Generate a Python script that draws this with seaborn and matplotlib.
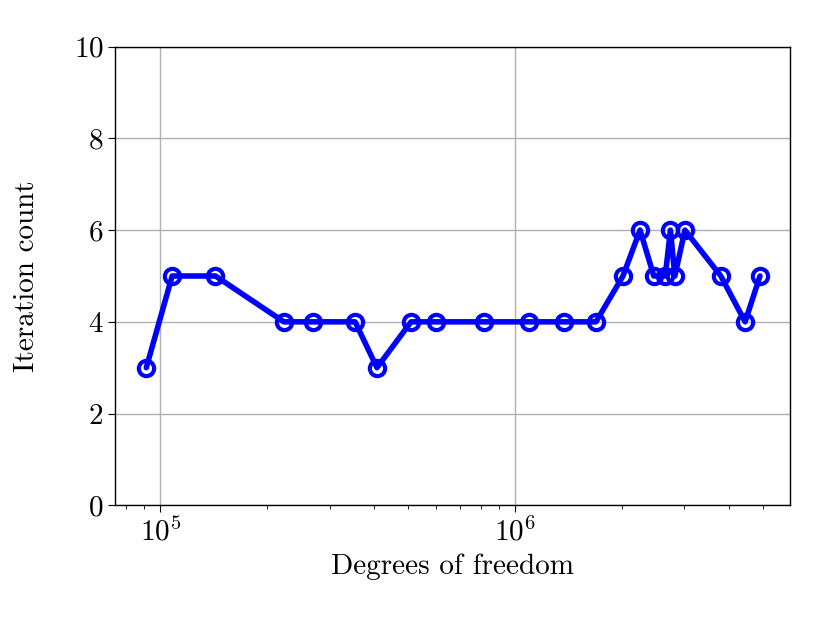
import pandas as pd
import matplotlib
matplotlib.use("Agg")
import matplotlib.pyplot as plt
import seaborn as sns

# Data
dofs = [91.3e3, 108e3, 143e3, 223e3, 270e3, 354e3, 408e3, 509e3, 599e3, 818e3,
        1.094e6, 1.374e6, 1.69e6, 2.014e6, 2.25e6, 2.46e6, 2.65e6, 2.74e6, 2.82e6,
        3.01e6, 3.80e6, 4.45e6, 4.90e6]
iterations = [3, 5, 5, 4, 4, 4, 3, 4, 4, 4,
              4, 4, 4, 5, 6, 5, 5, 6, 5,
              6, 5, 4, 5]

df = pd.DataFrame({"dofs": dofs, "iterations": iterations})

sns.set_style("ticks")
plt.rcParams["font.family"] = ["cmr10", "DejaVu Serif"]
plt.rcParams["mathtext.fontset"] = "cm"
plt.rcParams["axes.formatter.use_mathtext"] = True
plt.rcParams["axes.unicode_minus"] = False
plt.rcParams["text.color"] = "black"
plt.rcParams["axes.labelcolor"] = "black"
plt.rcParams["xtick.color"] = "black"
plt.rcParams["ytick.color"] = "black"

fig, ax = plt.subplots(figsize=(8.3, 6.23), dpi=100)
sns.lineplot(data=df, x="dofs", y="iterations", sort=False, ax=ax,
             color="blue", linewidth=4, marker="o", markersize=11,
             markerfacecolor="none", markeredgecolor="blue", markeredgewidth=3)

ax.set_xscale("log")
ax.set_xlim(74.7e3, 5.96e6)
ax.set_ylim(0, 10)
ax.set_xlabel("Degrees of freedom", fontsize=21, labelpad=5)
ax.set_ylabel("Iteration count", fontsize=21, labelpad=24)
ax.tick_params(axis="both", which="major", labelsize=21, length=5, color="black")
ax.tick_params(axis="x", which="minor", length=3, color="black")
ax.grid(True, which="major", color="#b0b0b0", linewidth=1)
for s in ax.spines.values():
    s.set_visible(True)
    s.set_color("black")
    s.set_linewidth(1)

fig.subplots_adjust(left=0.139, right=0.952, top=0.925, bottom=0.189)
fig.savefig("out.png", dpi=100)
